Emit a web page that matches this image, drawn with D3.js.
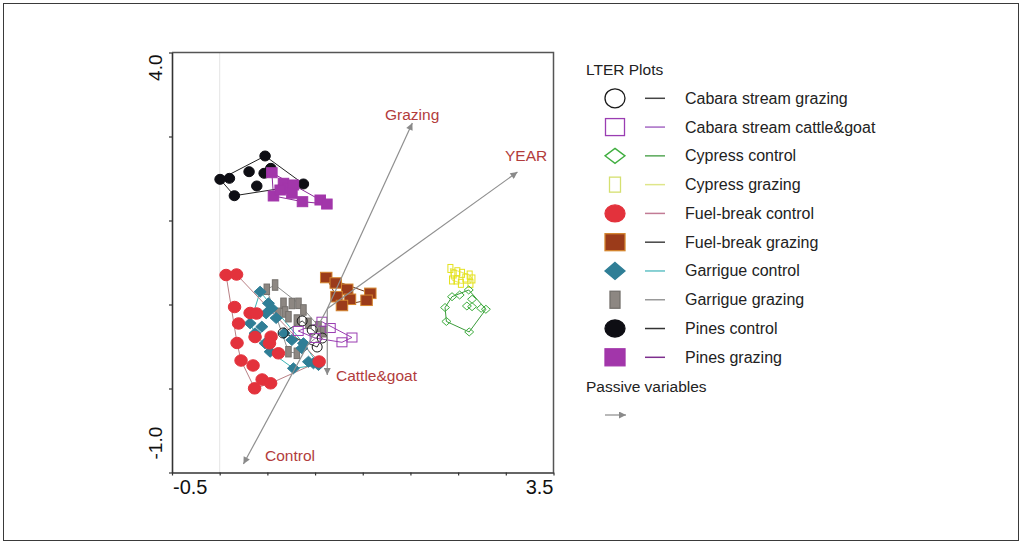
<!DOCTYPE html>
<html><head><meta charset="utf-8">
<script src="https://cdn.jsdelivr.net/npm/d3@7"></script>
<style>
html,body{margin:0;padding:0;background:#fff;}
svg{display:block;font-family:"Liberation Sans",Arial,Helvetica,sans-serif;}
</style></head><body>
<svg id="chart" width="1022" height="545"></svg>
<script>
// ---------- data ----------
const xDomain = [-0.5, 3.5];
const yDomain = [-1.0, 4.0];
const xTickValues = [-0.5, 0, 0.5, 1, 1.5, 2, 2.5, 3, 3.5];
const yTickValues = [-1, 0, 1, 2, 3, 4];
const xEndLabels = ["-0.5", "3.5"];
const yEndLabels = ["-1.0", "4.0"];

const seriesNames = ["Cabara stream grazing", "Cabara stream cattle&goat", "Cypress control", "Cypress grazing",
  "Fuel-break control", "Fuel-break grazing", "Garrigue control", "Garrigue grazing", "Pines control", "Pines grazing"];

const cabaraGrazing = [[0.665,0.661],[0.865,0.804],[0.970,0.696],[1.075,0.601],[1.022,0.494]];
const cabaraCattleGoat = [[1.072,0.795],[0.823,0.685],[1.001,0.601],[1.282,0.550],[1.387,0.607],[1.159,0.720]];
const cypressControl = [[2.436,1.093],[2.516,1.113],[2.611,1.173],[2.646,1.062],[2.592,0.982],[2.646,0.974],
  [2.741,0.955],[2.791,0.943],[2.363,0.964],[2.377,0.798],[2.616,0.673]];
const cypressGrazing = [[2.419,1.429],[2.453,1.363],[2.492,1.390],[2.541,1.371],[2.621,1.351],[2.650,1.304],
  [2.436,1.292],[2.482,1.292],[2.529,1.252],[2.629,1.252],[2.576,1.315]];
const fuelbreakControl = [[0.067,1.351],[0.177,1.357],[0.156,0.970],[0.319,0.899],[0.387,0.893],[0.198,0.774],
  [0.539,0.617],[0.182,0.542],[0.371,0.613],[0.522,0.538],[0.224,0.333],[0.350,0.274],[0.616,0.419],
  [0.445,0.107],[0.534,0.062],[0.366,0.002],[1.043,0.321]];
const fuelbreakGrazing = [[1.117,1.321],[1.217,1.256],[1.337,1.181],[1.225,1.093],[1.366,1.062],[1.282,0.988],
  [1.579,1.133],[1.540,1.050]];
const garrigueControl = [[0.424,1.152],[0.511,1.014],[0.547,0.955],[0.487,0.895],[0.319,0.776],[0.442,0.736],
  [0.371,0.657],[0.476,0.538],[0.529,0.438],[0.676,0.657],[0.757,0.577],[0.878,0.538],[0.862,0.479],
  [0.773,0.240],[0.931,0.319],[0.983,0.300],[1.036,0.280],[0.592,0.839]];
const garrigueGrazing = [[0.494,1.181],[0.581,1.232],[0.669,1.014],[0.757,1.012],[0.826,1.014],[0.686,0.911],
  [0.616,0.895],[0.721,0.855],[0.809,0.815],[0.931,0.776],[1.036,0.736],[1.088,0.676],[0.721,0.438],
  [0.809,0.419],[0.878,0.935]];
const pinesControl = [[0.004,2.490],[0.102,2.502],[0.154,2.295],[0.308,2.581],[0.389,2.411],[0.476,2.768],
  [0.536,2.621],[0.466,2.562],[0.878,2.435],[0.652,2.383]];
const pinesGrazing = [[0.547,2.569],[0.669,2.443],[0.721,2.383],[0.773,2.423],[0.564,2.292],[0.757,2.324],
  [0.868,2.224],[1.054,2.244],[1.124,2.196],[0.634,2.363]];

const arrowNames = ["Grazing", "YEAR", "Control", "Cattle&goat"];
const arrowOrigin = [1.128, 0.950];
const arrowTips = [[2.020,3.161],[3.122,2.577],[0.249,-0.899],[1.128,0.161]];

const legendTitle = "LTER Plots";
const passiveTitle = "Passive variables";

// ---------- styles ----------
const styles = {
  "Cabara stream grazing":      {pts: cabaraGrazing,    shape:"circle",  w:10, h:10, fill:"none",    stroke:"#1a1a1a", sw:1,   hull:"#333",    lw:20, lh:19, lline:"#444"},
  "Cabara stream cattle&goat":  {pts: cabaraCattleGoat, shape:"rect",    w:10, h:9,  fill:"none",    stroke:"#9a3db2", sw:1,   hull:"#9a3db2", lw:19, lh:17, lline:"#a66ac4"},
  "Cypress control":            {pts: cypressControl,   shape:"diamond", w:9,  h:8,  fill:"none",    stroke:"#3fae3f", sw:1,   hull:"#3a9a3a", lw:20, lh:15, lline:"#58a858"},
  "Cypress grazing":            {pts: cypressGrazing,   shape:"rect",    w:5,  h:8,  fill:"none",    stroke:"#e4e21e", sw:1,   hull:"#e8e660", lw:11, lh:15, lline:"#dfe68a", lstroke:"#d5e070"},
  "Fuel-break control":         {pts: fuelbreakControl, shape:"circle",  w:12.5, h:11.5, fill:"#e3323c", stroke:"#e3323c", sw:1, hull:"#b98085", lw:20, lh:17, lline:"#c27b95"},
  "Fuel-break grazing":         {pts: fuelbreakGrazing, shape:"rect",    w:11.5, h:10.5, fill:"#9b3b1a", stroke:"#d4852f", sw:1, hull:"#6e3a20", lw:20, lh:17, lline:"#444"},
  "Garrigue control":           {pts: garrigueControl,  shape:"diamond", w:12, h:11, fill:"#2f7e96", stroke:"#2f7e96", sw:1, hull:"#3cb4b4", lw:20, lh:17, lline:"#63c2c6"},
  "Garrigue grazing":           {pts: garrigueGrazing,  shape:"rect",    w:5.5,  h:10.5, fill:"#8d8782", stroke:"#74706c", sw:1, hull:"#8e8e8e", lw:10, lh:17, lline:"#999"},
  "Pines control":              {pts: pinesControl,     shape:"circle",  w:10.5, h:10, fill:"#0e0e14", stroke:"#0e0e14", sw:1, hull:"#222",    lw:20, lh:17, lline:"#333"},
  "Pines grazing":              {pts: pinesGrazing,     shape:"rect",    w:10.5, h:10,  fill:"#a236aa", stroke:"#a236aa", sw:1, hull:"#8a2c96", lw:20, lh:17, lline:"#7e2f8e"}
};
const drawOrder = ["Cypress grazing","Cypress control","Garrigue grazing","Garrigue control","Fuel-break control",
  "Fuel-break grazing","Cabara stream grazing","Cabara stream cattle&goat","Pines control","Pines grazing"];

// ---------- chart ----------
const svg = d3.select("#chart");
const x = d3.scaleLinear().domain(xDomain).range([172, 553.5]);
const y = d3.scaleLinear().domain(yDomain).range([472.5, 52.5]);

// outer frame
svg.append("rect").attr("x",3.5).attr("y",3.5).attr("width",1015).attr("height",537)
  .attr("fill","none").attr("stroke","#3a3a3a").attr("stroke-width",1);

// zero line (faint)
svg.append("line").attr("x1",x(0)).attr("x2",x(0)).attr("y1",y(4)).attr("y2",y(-1))
  .attr("stroke","#e4e4e4").attr("stroke-width",1);

// plot box top/right
svg.append("path").attr("d",`M${x(-0.5)},${y(4)}H${x(3.5)}V${y(-1)}`)
  .attr("fill","none").attr("stroke","#555").attr("stroke-width",1.5);

const xAxis = svg.append("g").attr("transform",`translate(0,${y(-1)})`)
  .call(d3.axisBottom(x).tickValues(xTickValues).tickSizeInner(3).tickSizeOuter(0).tickFormat(""));
const yAxis = svg.append("g").attr("transform",`translate(${x(-0.5)},0)`)
  .call(d3.axisLeft(y).tickValues(yTickValues).tickSizeInner(3).tickSizeOuter(0).tickFormat(""));
[xAxis,yAxis].forEach(g=>{
  g.select(".domain").attr("stroke","#333").attr("stroke-width",1.6);
  g.selectAll(".tick line").attr("stroke","#333").attr("stroke-width",1.2);
});

// end labels
svg.append("text").attr("x",x(xDomain[0])+1).attr("y",494).attr("font-size",20).attr("fill","#111")
  .attr("text-anchor","start").text(xEndLabels[0]);
svg.append("text").attr("x",x(xDomain[1])).attr("y",494).attr("font-size",20).attr("fill","#111")
  .attr("text-anchor","end").text(xEndLabels[1]);
svg.append("text").attr("transform",`translate(162,${y(4)+2}) rotate(-90)`).attr("font-size",19).attr("fill","#111")
  .attr("text-anchor","end").text(yEndLabels[1]);
svg.append("text").attr("transform",`translate(162,${y(-1)-13}) rotate(-90)`).attr("font-size",19).attr("fill","#111")
  .attr("text-anchor","start").text(yEndLabels[0]);

// marker drawing helper
function drawMarker(g, shape, cx, cy, w, h, fill, stroke, sw){
  if(shape==="circle"){
    g.append("ellipse").attr("cx",cx).attr("cy",cy).attr("rx",w/2).attr("ry",h/2)
      .attr("fill",fill).attr("stroke",stroke).attr("stroke-width",sw);
  } else if(shape==="rect"){
    g.append("rect").attr("x",cx-w/2).attr("y",cy-h/2).attr("width",w).attr("height",h)
      .attr("fill",fill).attr("stroke",stroke).attr("stroke-width",sw);
  } else {
    g.append("path").attr("d",`M${cx},${cy-h/2}L${cx+w/2},${cy}L${cx},${cy+h/2}L${cx-w/2},${cy}Z`)
      .attr("fill",fill).attr("stroke",stroke).attr("stroke-width",sw);
  }
}

// hulls
const hullG = svg.append("g");
drawOrder.forEach(name=>{
  const s = styles[name];
  const p = s.pts.map(d=>[x(d[0]),y(d[1])]);
  const hull = d3.polygonHull(p);
  if(hull) hullG.append("path").attr("d","M"+hull.join("L")+"Z")
    .attr("fill","none").attr("stroke",s.hull).attr("stroke-width",1);
});

// points
const ptG = svg.append("g");
drawOrder.forEach(name=>{
  const s = styles[name];
  s.pts.forEach(d=>drawMarker(ptG, s.shape, x(d[0]), y(d[1]), s.w, s.h, s.fill, s.stroke, s.sw));
});

// arrows
const defs = svg.append("defs");
defs.append("marker").attr("id","ah").attr("viewBox","0 0 10 10").attr("refX",10).attr("refY",5)
  .attr("markerWidth",9).attr("markerHeight",7).attr("markerUnits","userSpaceOnUse").attr("orient","auto")
  .append("path").attr("d","M0,0L10,5L0,10Z").attr("fill","#8a8a8a");
const arrowG = svg.append("g");
arrowTips.forEach(t=>{
  arrowG.append("line").attr("x1",x(arrowOrigin[0])).attr("y1",y(arrowOrigin[1]))
    .attr("x2",x(t[0])).attr("y2",y(t[1])).attr("stroke","#8f8f8f").attr("stroke-width",1.2)
    .attr("marker-end","url(#ah)");
});
const arrowLabelPos = [[385,119.5,"start"],[505,161,"start"],[265,461,"start"],[336,380.5,"start"]];
arrowNames.forEach((n,i)=>{
  svg.append("text").attr("x",arrowLabelPos[i][0]).attr("y",arrowLabelPos[i][1])
    .attr("text-anchor",arrowLabelPos[i][2]).attr("font-size",15.5).attr("fill","#b23c3c").text(n);
});

// legend
const lg = svg.append("g");
lg.append("text").attr("x",586).attr("y",74.5).attr("font-size",15.5).attr("fill","#222").text(legendTitle);
const rowY = d3.scalePoint().domain(seriesNames).range([98.3, 357.3]);
seriesNames.forEach(name=>{
  const s = styles[name];
  const cy = rowY(name);
  drawMarker(lg, s.shape, 615, cy, s.lw, s.lh, s.fill, s.lstroke || s.stroke, 1.3);
  lg.append("line").attr("x1",645).attr("x2",665).attr("y1",cy).attr("y2",cy)
    .attr("stroke",s.lline).attr("stroke-width",1.5);
  lg.append("text").attr("x",685).attr("y",cy+5.5).attr("font-size",16).attr("fill","#222").text(name);
});
lg.append("text").attr("x",586).attr("y",392).attr("font-size",15.5).attr("fill","#222").text(passiveTitle);
lg.append("line").attr("x1",605).attr("x2",626).attr("y1",415).attr("y2",415)
  .attr("stroke","#8a8a8a").attr("stroke-width",1.2).attr("marker-end","url(#ah)");
</script>
</body></html>
